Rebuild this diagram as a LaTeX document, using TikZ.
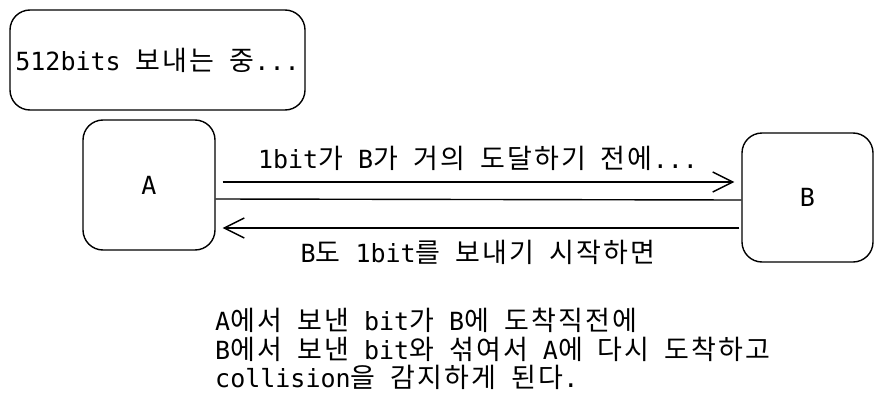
\documentclass[tikz,border=0pt]{standalone}
\usepackage{fontspec}
\setmonofont{DejaVu Sans Mono}
\newfontfamily\krfont[Scale=1.08, LetterSpace=8]{Noto Sans CJK KR}
\usepackage{tikz}
\usetikzlibrary{arrows.meta}
\newcommand{\kr}[1]{{\krfont #1}}

\begin{document}
\begin{tikzpicture}[x=1pt, y=-1pt]
    \tikzstyle{host} = [rectangle, draw, rounded corners=20pt, line width=1.4pt, inner sep=0pt, font=\ttfamily\fontsize{25}{27.5}\selectfont]
    \tikzstyle{msg} = [inner sep=0pt, font=\ttfamily\fontsize{25}{28.5}\selectfont]
    \tikzstyle{wire} = [line width=1.4pt]
    \tikzstyle{sendarr} = [wire, -{Straight Barb[length=20pt, width=20pt, line width=1.4pt]}]
    \useasboundingbox (0,0) rectangle (883,415);
    \node[host, minimum width=295pt, minimum height=100pt] (status) at (157.5,60) {512bits \kr{보내는} \kr{중}...};
    \node[host, minimum width=132pt, minimum height=130pt] (A) at (149,185) {A};
    \node[host, minimum width=131pt, minimum height=129pt] (B) at (807.5,197.5) {B};
    \draw[sendarr] ([xshift=7pt, yshift=3pt]A.east) -- ([xshift=-7pt, yshift=15.5pt]B.west);
    \draw[wire] ([yshift=-14pt]A.east) -- ([yshift=-2.5pt]B.west);
    \draw[sendarr] ([xshift=-2pt, yshift=-30.5pt]B.west) -- ([xshift=7pt, yshift=-43pt]A.east);
    \node[msg] (lbla) at (478,158) {1bit\kr{가} B\kr{가} \kr{거의} \kr{도달하기} \kr{전에}...};
    \node[msg] (lblb) at (478,252) {B\kr{도} 1bit\kr{를} \kr{보내기} \kr{시작하면}};
    \node[msg, anchor=north west, align=left] (note) at (215,308) {A\kr{에서} \kr{보낸} bit\kr{가} B\kr{에} \kr{도착직전에}\\
        B\kr{에서} \kr{보낸} bit\kr{와} \kr{섞여서} A\kr{에} \kr{다시} \kr{도착하고}\\
        collision\kr{을} \kr{감지하게} \kr{된다}.};
\end{tikzpicture}
\end{document}
